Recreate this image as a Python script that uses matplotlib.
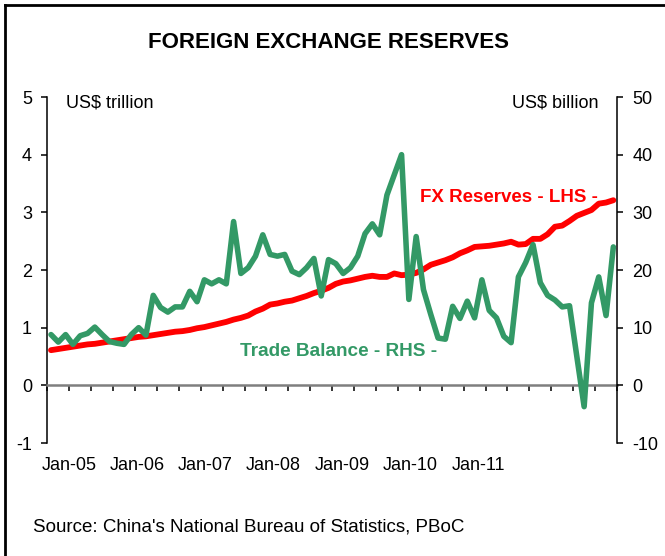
import numpy as np
import matplotlib.pyplot as plt
from matplotlib.lines import Line2D
from matplotlib.transforms import blended_transform_factory

plt.rcParams['font.family'] = ['Liberation Sans', 'DejaVu Sans']
plt.rcParams['axes.unicode_minus'] = False

# Monthly data, Jan-05 .. Jun-11
fx_reserves = [0.61, 0.63, 0.65, 0.67, 0.69, 0.71, 0.72, 0.74, 0.76, 0.78,
               0.80, 0.82, 0.84, 0.85, 0.87, 0.89, 0.91, 0.93, 0.94, 0.96,
               0.99, 1.01, 1.04, 1.07, 1.10, 1.14, 1.17, 1.21, 1.28, 1.33,
               1.40, 1.42, 1.45, 1.47, 1.51, 1.55, 1.60, 1.64, 1.69, 1.76,
               1.80, 1.82, 1.85, 1.88, 1.90, 1.88, 1.88, 1.94, 1.91, 1.92,
               1.95, 2.01, 2.09, 2.13, 2.17, 2.22, 2.29, 2.34, 2.40, 2.41,
               2.42, 2.44, 2.46, 2.49, 2.44, 2.45, 2.54, 2.54, 2.62, 2.75,
               2.77, 2.85, 2.94, 2.99, 3.04, 3.15, 3.17, 3.21]  # US$ trillion
trade_balance = [8.8, 7.5, 8.8, 7.1, 8.6, 9.0, 10.1, 8.8, 7.6, 7.3,
                 7.1, 8.8, 10.0, 8.7, 15.6, 13.5, 12.7, 13.6, 13.6, 16.3,
                 14.5, 18.3, 17.6, 18.3, 17.6, 28.4, 19.4, 20.4, 22.4, 26.1,
                 22.7, 22.4, 22.7, 19.8, 19.2, 20.4, 22.0, 15.5, 21.8, 21.1,
                 19.4, 20.4, 22.4, 26.3, 28.0, 26.1, 33.0, 36.5, 40.0, 14.9,
                 25.8, 16.6, 12.3, 8.2, 8.0, 13.7, 11.6, 14.6, 11.7, 18.3,
                 13.0, 11.7, 8.5, 7.4, 18.8, 21.3, 24.4, 17.8, 15.6, 14.8,
                 13.6, 13.8, 5.0, -3.7, 14.3, 18.8, 12.1, 24.0]  # US$ billion
x_labels = ['Jan-05', 'Jan-06', 'Jan-07', 'Jan-08', 'Jan-09', 'Jan-10', 'Jan-11']

W, H = 665, 556
fig = plt.figure(figsize=(W / 100, H / 100), dpi=100)

def px(x, y):
    return x / W, 1 - y / H

left, right, top, bottom = 47.35, 617, 97, 443
ax = fig.add_axes([left / W, 1 - bottom / H, (right - left) / W, (bottom - top) / H])
ax2 = ax.twinx()

red = '#FF0000'
green = '#339966'
months = np.arange(len(fx_reserves))

ax.plot(months, fx_reserves, color=red, lw=4.2, solid_capstyle='round', zorder=3)
ax2.plot(months, trade_balance, color=green, lw=4, solid_capstyle='round', zorder=3)

ax.set_xlim(-0.5, len(months) - 0.5)
ax.set_ylim(-1, 5)
ax2.set_ylim(-10, 50)
ax.set_yticks(range(-1, 6))
ax2.set_yticks(range(-10, 51, 10))

# x axis sits on zero, quarterly ticks
ax.spines['bottom'].set_position(('data', 0))
ax.spines['bottom'].set_color('#7f7f7f')
ax.spines['bottom'].set_linewidth(1.8)
ax.set_xticks(np.arange(-0.5, len(months), 3))
ax.set_xticklabels([])
ax.tick_params(axis='x', direction='out', length=4.5, width=1.1, color='black')

for a in (ax, ax2):
    a.spines['top'].set_visible(False)
ax2.spines['bottom'].set_visible(False)
ax.spines['right'].set_visible(False)
ax2.spines['left'].set_visible(False)
ax.spines['left'].set_linewidth(1.1)
ax2.spines['right'].set_linewidth(1.1)
ax.tick_params(axis='y', direction='out', length=4, width=1.1, labelsize=13, pad=7)
ax2.tick_params(axis='y', direction='out', length=4, width=1.1, labelsize=13, pad=7)

# year labels under the plot
trans = blended_transform_factory(ax.transData, fig.transFigure)
for k, lab in enumerate(x_labels):
    ax.text(2.5 + k * 9.33, px(0, 466)[1], lab, transform=trans,
            ha='center', va='center', fontsize=13)

fig.text(*px(328, 42), 'FOREIGN EXCHANGE RESERVES', ha='center', va='center',
         fontsize=16, fontweight='bold')
fig.text(*px(66, 103), 'US$ trillion', ha='left', va='center', fontsize=13)
fig.text(*px(598, 103), 'US$ billion', ha='right', va='center', fontsize=13)
fig.text(*px(420, 197), 'FX Reserves - LHS -', ha='left', va='center',
         fontsize=13.5, fontweight='bold', color=red)
fig.text(*px(240, 352), 'Trade Balance - RHS -', ha='left', va='center',
         fontsize=13.7, fontweight='bold', color=green)
fig.text(*px(33, 527), "Source: China's National Bureau of Statistics, PBoC",
         ha='left', va='center', fontsize=13.5)

# frame (left and top edges)
fig.add_artist(Line2D([5 / W, 5 / W], [0, 1 - 5 / H], color='black', lw=2))
fig.add_artist(Line2D([5 / W, 1], [1 - 5 / H, 1 - 5 / H], color='black', lw=2))

fig.savefig('out.png', dpi=100)
